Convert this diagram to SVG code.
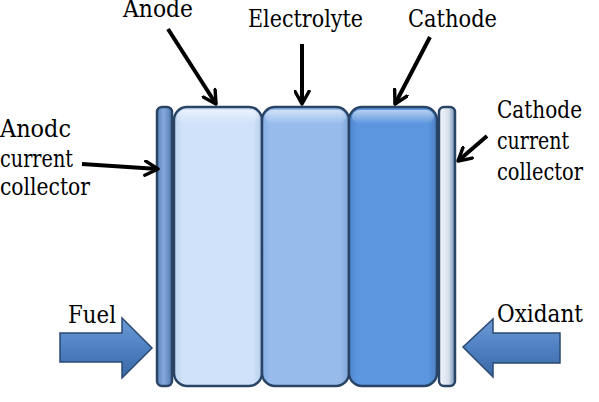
<svg xmlns="http://www.w3.org/2000/svg" width="599" height="402" viewBox="0 0 599 402">
<defs>
<style>
.t{font-family:"DejaVu Serif";font-size:24px;fill:#000}
.cell{stroke:#2a4466;stroke-width:2.5}
.lead{stroke:#000;stroke-width:4;fill:none;marker-end:url(#chev)}
.flow{stroke:#2a4a73;stroke-width:1.5;fill:url(#gFlow)}
</style>
<marker id="chev" viewBox="0 0 12 12" refX="10" refY="6" markerWidth="17" markerHeight="17" markerUnits="userSpaceOnUse" orient="auto">
<path d="M1,1 L10,6 L1,11" fill="none" stroke="#000" stroke-width="2.4" stroke-linecap="round" stroke-linejoin="round"/>
</marker>
<linearGradient id="gAnode" x1="0" y1="0" x2="1" y2="0">
<stop offset="0" stop-color="#bcd3f2"/><stop offset="0.1" stop-color="#d0e2f9"/><stop offset="0.9" stop-color="#d0e2f9"/><stop offset="1" stop-color="#b4cbea"/>
</linearGradient>
<linearGradient id="gElec" x1="0" y1="0" x2="1" y2="0">
<stop offset="0" stop-color="#86aee3"/><stop offset="0.1" stop-color="#97bcec"/><stop offset="0.9" stop-color="#97bcec"/><stop offset="1" stop-color="#80a6d9"/>
</linearGradient>
<linearGradient id="gCath" x1="0" y1="0" x2="1" y2="0">
<stop offset="0" stop-color="#4f87d0"/><stop offset="0.1" stop-color="#5c96df"/><stop offset="0.9" stop-color="#5c96df"/><stop offset="1" stop-color="#4a7fc4"/>
</linearGradient>
<linearGradient id="gLcol" x1="0" y1="0" x2="1" y2="0">
<stop offset="0" stop-color="#5a84bb"/><stop offset="0.45" stop-color="#86aade"/><stop offset="1" stop-color="#4f78ae"/>
</linearGradient>
<linearGradient id="gRcol" x1="0" y1="0" x2="1" y2="0">
<stop offset="0" stop-color="#f3f6fa"/><stop offset="0.6" stop-color="#d5e0ec"/><stop offset="1" stop-color="#6e8cb4"/>
</linearGradient>
<linearGradient id="gFlow" x1="0" y1="0" x2="0" y2="1">
<stop offset="0" stop-color="#6f9bd6"/><stop offset="0.5" stop-color="#4f80c2"/><stop offset="1" stop-color="#3c68a5"/>
</linearGradient>
<linearGradient id="gHi" x1="0" y1="0" x2="0" y2="1">
<stop offset="0" stop-color="#ffffff" stop-opacity="0.55"/><stop offset="1" stop-color="#ffffff" stop-opacity="0"/>
</linearGradient>
</defs>

<g id="anode-collector">
<rect x="157" y="107" width="15" height="279" rx="5" class="cell" fill="url(#gLcol)"/>
</g>
<g id="anode">
<rect x="174" y="107" width="88" height="279" rx="13" class="cell" fill="url(#gAnode)"/>
<rect x="177" y="110" width="82" height="14" rx="8" fill="url(#gHi)"/>
</g>
<g id="electrolyte">
<rect x="262" y="107" width="87" height="279" rx="13" class="cell" fill="url(#gElec)"/>
<rect x="265" y="110" width="81" height="14" rx="8" fill="url(#gHi)"/>
</g>
<g id="cathode">
<rect x="349" y="107" width="88" height="279" rx="13" class="cell" fill="url(#gCath)"/>
<rect x="352" y="110" width="82" height="14" rx="8" fill="url(#gHi)"/>
</g>
<g id="cathode-collector">
<rect x="439" y="107" width="16" height="279" rx="5" class="cell" fill="url(#gRcol)"/>
</g>

<g id="fuel">
<polygon class="flow" points="60,333 122,333 122,318 152,348 122,378 122,362 60,362"/>
<text class="t" x="68" y="323" textLength="48" lengthAdjust="spacingAndGlyphs">Fuel</text>
</g>
<g id="oxidant">
<polygon class="flow" points="560,333 493,333 493,319 463,347 493,377 493,363 560,363"/>
<text class="t" x="497" y="322" textLength="86" lengthAdjust="spacingAndGlyphs">Oxidant</text>
</g>

<g id="labels">
<text class="t" x="123" y="17" textLength="70" lengthAdjust="spacingAndGlyphs">Anode</text>
<text class="t" x="248" y="27" textLength="115" lengthAdjust="spacingAndGlyphs">Electrolyte</text>
<text class="t" x="408" y="27" textLength="89" lengthAdjust="spacingAndGlyphs">Cathode</text>
<text class="t" x="0" y="137" textLength="71" lengthAdjust="spacingAndGlyphs">Anodc</text>
<text class="t" x="0" y="167" textLength="73" lengthAdjust="spacingAndGlyphs">current</text>
<text class="t" x="0" y="195" textLength="90" lengthAdjust="spacingAndGlyphs">collector</text>
<text class="t" x="497" y="118" textLength="85" lengthAdjust="spacingAndGlyphs">Cathode</text>
<text class="t" x="497" y="149" textLength="72" lengthAdjust="spacingAndGlyphs">current</text>
<text class="t" x="497" y="180" textLength="86" lengthAdjust="spacingAndGlyphs">collector</text>
</g>

<g id="connectors">
<line class="lead" x1="168" y1="29" x2="216" y2="104"/>
<line class="lead" x1="302" y1="44" x2="302" y2="104"/>
<line class="lead" x1="430" y1="37" x2="395" y2="104"/>
<line class="lead" x1="82" y1="164" x2="158" y2="169"/>
<line class="lead" x1="487" y1="136" x2="458" y2="161"/>
</g>
</svg>
